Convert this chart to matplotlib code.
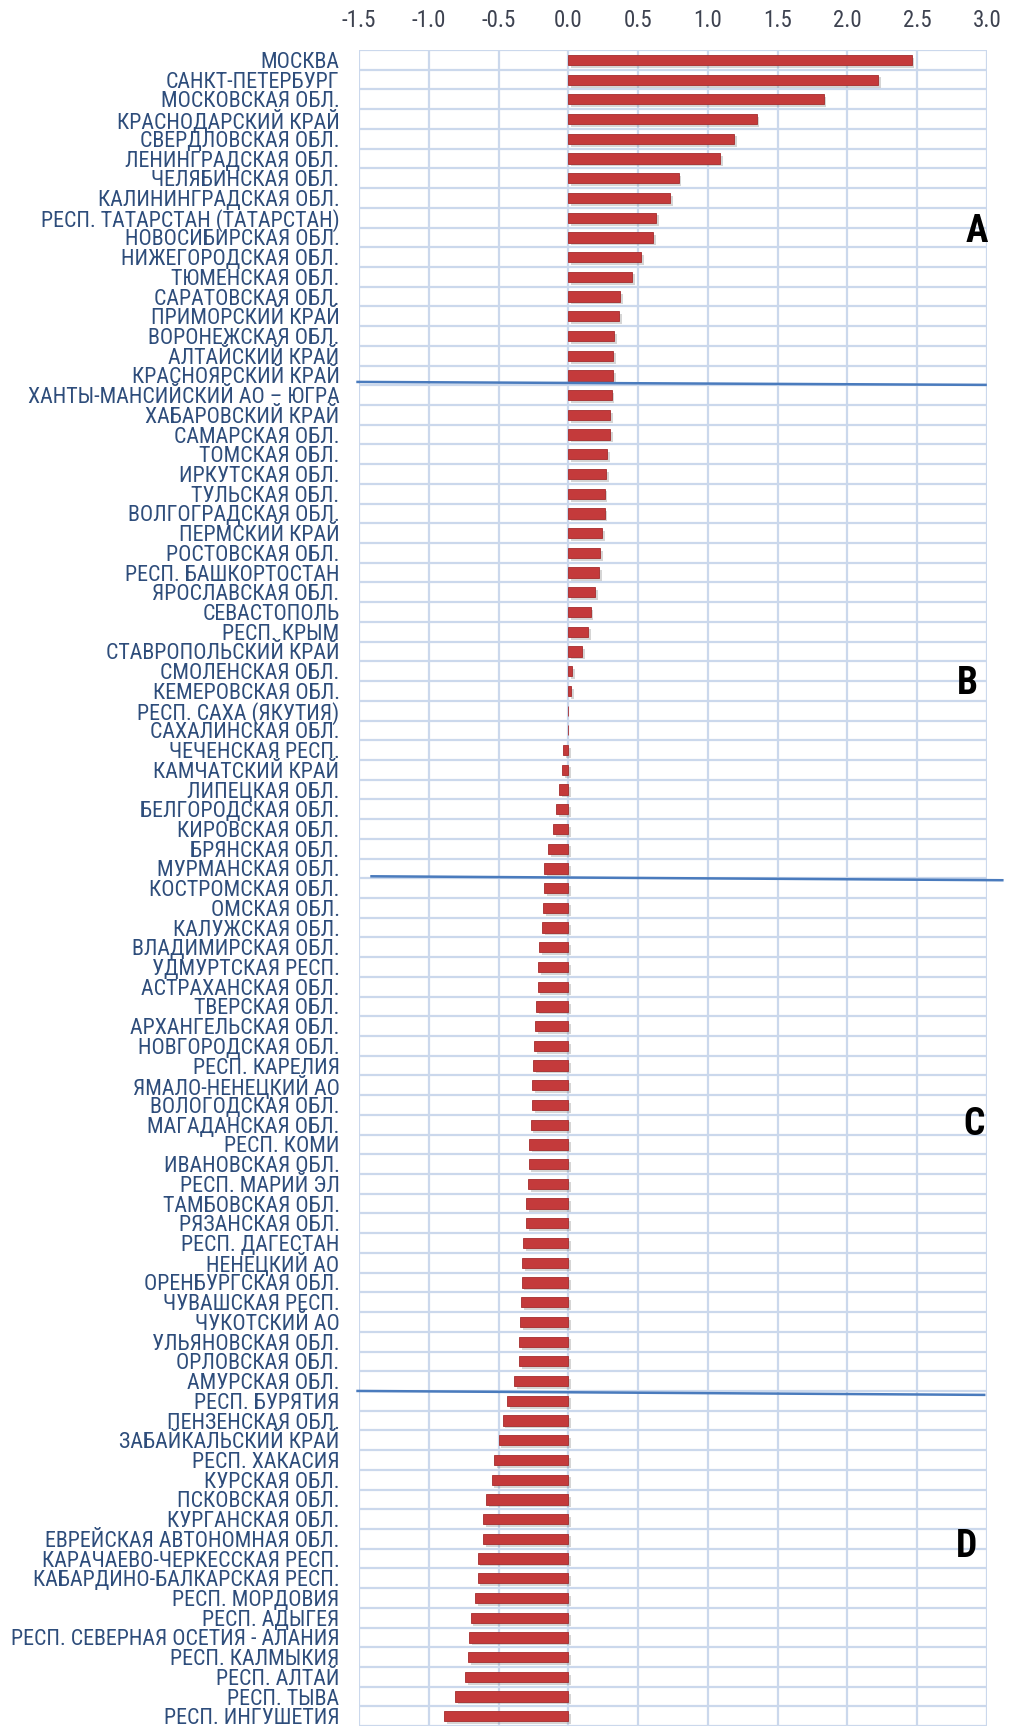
import numpy as np
import matplotlib.pyplot as plt
import matplotlib.patheffects as pe
from matplotlib import font_manager

# narrow font like the original (Calibri-ish condensed); look for one by file name
def find_font(keys, bold=False):
    files = font_manager.findSystemFonts() + [f.fname for f in font_manager.fontManager.ttflist]
    for key in keys:
        for f in files:
            base = f.split('/')[-1].lower()
            if key in base and ('bold' in base) == bold and 'italic' not in base and 'oblique' not in base:
                return f
    return None

keys = ['liberationsansnarrow', 'robotocondensed', 'dejavusanscondensed', 'opensans_condensed',
        'opensanscondensed', 'notosans-condensed', 'notosanscondensed']
reg_file = find_font(keys)
bold_file = find_font(keys, bold=True)
if reg_file:
    label_font = font_manager.FontProperties(fname=reg_file, size=15.8)
    tick_font = font_manager.FontProperties(fname=reg_file, size=16.5)
else:
    label_font = font_manager.FontProperties(family='DejaVu Sans', size=12)
    tick_font = font_manager.FontProperties(family='DejaVu Sans', size=12)
if bold_file:
    letter_font = font_manager.FontProperties(fname=bold_file, size=27)
else:
    letter_font = font_manager.FontProperties(family='DejaVu Sans', weight='bold', size=21)

regions = [
    "МОСКВА", "САНКТ-ПЕТЕРБУРГ", "МОСКОВСКАЯ ОБЛ.", "КРАСНОДАРСКИЙ КРАЙ",
    "СВЕРДЛОВСКАЯ ОБЛ.", "ЛЕНИНГРАДСКАЯ ОБЛ.", "ЧЕЛЯБИНСКАЯ ОБЛ.",
    "КАЛИНИНГРАДСКАЯ ОБЛ.", "РЕСП. ТАТАРСТАН (ТАТАРСТАН)", "НОВОСИБИРСКАЯ ОБЛ.",
    "НИЖЕГОРОДСКАЯ ОБЛ.", "ТЮМЕНСКАЯ ОБЛ.", "САРАТОВСКАЯ ОБЛ.", "ПРИМОРСКИЙ КРАЙ",
    "ВОРОНЕЖСКАЯ ОБЛ.", "АЛТАЙСКИЙ КРАЙ", "КРАСНОЯРСКИЙ КРАЙ",
    "ХАНТЫ-МАНСИЙСКИЙ АО – ЮГРА", "ХАБАРОВСКИЙ КРАЙ", "САМАРСКАЯ ОБЛ.",
    "ТОМСКАЯ ОБЛ.", "ИРКУТСКАЯ ОБЛ.", "ТУЛЬСКАЯ ОБЛ.", "ВОЛГОГРАДСКАЯ ОБЛ.",
    "ПЕРМСКИЙ КРАЙ", "РОСТОВСКАЯ ОБЛ.", "РЕСП. БАШКОРТОСТАН", "ЯРОСЛАВСКАЯ ОБЛ.",
    "СЕВАСТОПОЛЬ", "РЕСП. КРЫМ", "СТАВРОПОЛЬСКИЙ КРАЙ", "СМОЛЕНСКАЯ ОБЛ.",
    "КЕМЕРОВСКАЯ ОБЛ.", "РЕСП. САХА (ЯКУТИЯ)", "САХАЛИНСКАЯ ОБЛ.",
    "ЧЕЧЕНСКАЯ РЕСП.", "КАМЧАТСКИЙ КРАЙ", "ЛИПЕЦКАЯ ОБЛ.", "БЕЛГОРОДСКАЯ ОБЛ.",
    "КИРОВСКАЯ ОБЛ.", "БРЯНСКАЯ ОБЛ.", "МУРМАНСКАЯ ОБЛ.", "КОСТРОМСКАЯ ОБЛ.",
    "ОМСКАЯ ОБЛ.", "КАЛУЖСКАЯ ОБЛ.", "ВЛАДИМИРСКАЯ ОБЛ.", "УДМУРТСКАЯ РЕСП.",
    "АСТРАХАНСКАЯ ОБЛ.", "ТВЕРСКАЯ ОБЛ.", "АРХАНГЕЛЬСКАЯ ОБЛ.", "НОВГОРОДСКАЯ ОБЛ.",
    "РЕСП. КАРЕЛИЯ", "ЯМАЛО-НЕНЕЦКИЙ АО", "ВОЛОГОДСКАЯ ОБЛ.", "МАГАДАНСКАЯ ОБЛ.",
    "РЕСП. КОМИ", "ИВАНОВСКАЯ ОБЛ.", "РЕСП. МАРИЙ ЭЛ", "ТАМБОВСКАЯ ОБЛ.",
    "РЯЗАНСКАЯ ОБЛ.", "РЕСП. ДАГЕСТАН", "НЕНЕЦКИЙ АО", "ОРЕНБУРГСКАЯ ОБЛ.",
    "ЧУВАШСКАЯ РЕСП.", "ЧУКОТСКИЙ АО", "УЛЬЯНОВСКАЯ ОБЛ.", "ОРЛОВСКАЯ ОБЛ.",
    "АМУРСКАЯ ОБЛ.", "РЕСП. БУРЯТИЯ", "ПЕНЗЕНСКАЯ ОБЛ.", "ЗАБАЙКАЛЬСКИЙ КРАЙ",
    "РЕСП. ХАКАСИЯ", "КУРСКАЯ ОБЛ.", "ПСКОВСКАЯ ОБЛ.", "КУРГАНСКАЯ ОБЛ.",
    "ЕВРЕЙСКАЯ АВТОНОМНАЯ ОБЛ.", "КАРАЧАЕВО-ЧЕРКЕССКАЯ РЕСП.",
    "КАБАРДИНО-БАЛКАРСКАЯ РЕСП.", "РЕСП. МОРДОВИЯ", "РЕСП. АДЫГЕЯ",
    "РЕСП. СЕВЕРНАЯ ОСЕТИЯ - АЛАНИЯ", "РЕСП. КАЛМЫКИЯ", "РЕСП. АЛТАЙ",
    "РЕСП. ТЫВА", "РЕСП. ИНГУШЕТИЯ",
]

values = [
    2.46, 2.22, 1.83, 1.35, 1.19, 1.09, 0.79, 0.73, 0.63, 0.61,
    0.52, 0.46, 0.37, 0.365, 0.33, 0.32, 0.32, 0.31, 0.30, 0.30,
    0.28, 0.27, 0.26, 0.26, 0.24, 0.23, 0.22, 0.19, 0.16, 0.14,
    0.10, 0.03, 0.02, 0.0, 0.0, -0.035, -0.045, -0.065, -0.09, -0.11,
    -0.145, -0.175, -0.175, -0.18, -0.19, -0.21, -0.215, -0.22, -0.23, -0.24,
    -0.245, -0.25, -0.26, -0.26, -0.27, -0.28, -0.285, -0.29, -0.30, -0.305,
    -0.325, -0.33, -0.335, -0.34, -0.345, -0.35, -0.355, -0.39, -0.44, -0.47,
    -0.50, -0.53, -0.55, -0.59, -0.61, -0.61, -0.65, -0.65, -0.67, -0.70,
    -0.71, -0.72, -0.74, -0.81, -0.89,
]

# groups A-D: number of regions before each separator line
group_breaks = [17, 42, 68]
group_letters = ["A", "B", "C", "D"]
letter_rows = [8.7, 31.6, 54.0, 75.4]

xticks = [-1.5, -1.0, -0.5, 0.0, 0.5, 1.0, 1.5, 2.0, 2.5, 3.0]

label_color = '#2e4d7b'
grid_color = '#cbd8ec'

fig = plt.figure(figsize=(10.10, 17.26), dpi=100)
ax = fig.add_axes([0.3554, -0.0001, 0.6218, 0.9711])

y = np.arange(len(regions))
bars = ax.barh(y, values, height=0.52, color='#c43a3b', edgecolor='#a52b2c',
               linewidth=0.6, zorder=3)
for b in bars:
    b.set_path_effects([pe.SimplePatchShadow(offset=(2, -2), shadow_rgbFace='#888888', alpha=0.35),
                        pe.Normal()])

ax.set_xlim(-1.5, 3.0)
ax.set_ylim(len(regions) - 0.5, -0.5)

ax.xaxis.tick_top()
ax.set_xticks(xticks)
ax.set_xticklabels([f"{t:.1f}" for t in xticks], fontproperties=tick_font, color='#3d4250')
ax.set_yticks(y)
ax.set_yticklabels(regions, fontproperties=label_font, color=label_color)
ax.tick_params(axis='x', length=0, pad=13)
ax.tick_params(axis='y', length=0, pad=14)

# row separators and vertical grid
ax.set_yticks(np.arange(-0.5, len(regions), 1), minor=True)
ax.tick_params(axis='y', which='minor', length=0)
ax.grid(True, axis='x', which='major', color=grid_color, linewidth=1.6, zorder=0)
ax.grid(True, axis='y', which='minor', color=grid_color, linewidth=1.6, zorder=0)
for s in ax.spines.values():
    s.set_visible(False)
ax.axvline(3.0, color='#b3c6e2', linewidth=2, zorder=1)

# group separator lines (slightly tilted like the hand-drawn original)
line_x = [(-1.51, 2.99), (-1.41, 3.11), (-1.51, 2.98)]
line_dy = [(-0.17, -0.02), (-0.1, 0.1), (0.0, 0.2)]
for brk, (x0, x1), (d0, d1) in zip(group_breaks, line_x, line_dy):
    ax.plot([x0, x1], [brk - 0.5 + d0, brk - 0.5 + d1], color='#4a7bbd',
            linewidth=1.8, zorder=4, clip_on=False)

letter_x = [2.93, 2.86, 2.91, 2.85]
for lx, ly, letter in zip(letter_x, letter_rows, group_letters):
    ax.text(lx, ly, letter, ha='center', va='center', fontproperties=letter_font,
            color='black', zorder=5)

fig.savefig('out.png', dpi=100)
